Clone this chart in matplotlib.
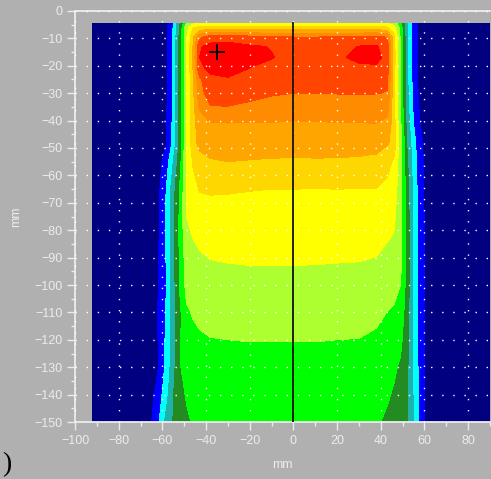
import numpy as np
import matplotlib
matplotlib.use('Agg')
import matplotlib.pyplot as plt
from matplotlib.ticker import MultipleLocator

# lateral positions (mm) and depths (mm) of the read-off grid
lateral_mm = [-92, -66, -62, -58, -55, -52, -49, -46, -43, -38, -30, -20, -10, 0,
              10, 20, 30, 38, 43, 46, 49, 52, 55, 58, 62, 66, 90]
depth_mm = [-4.5, -6, -9.5, -13, -17, -21, -25, -30, -35, -41, -48, -55, -65,
            -75, -85, -92, -100, -110, -120, -130, -140, -150]

# colour band read at each grid node (0 = navy ... 12 = red)
band_level = [
    [0, 0, 0.2, 0.7, 1.9, 3.9, 5.9, 6.8, 7.1, 7.2, 7.25, 7.3, 7.3, 7.3, 7.3, 7.3, 7.3, 7.25, 7.0, 6.5, 5.3, 3.0, 1.5, 0.55, 0.15, 0, 0],
    [0, 0, 0.25, 0.8, 2.05, 4.2, 6.6, 7.9, 8.2, 8.4, 8.4, 8.35, 8.3, 8.3, 8.3, 8.3, 8.3, 8.3, 8.1, 7.4, 5.6, 3.1, 1.55, 0.6, 0.2, 0, 0],
    [0, 0, 0.3, 0.85, 2.1, 4.3, 6.85, 8.8, 10.7, 11.5, 11.5, 11.3, 11.1, 11.0, 11.0, 11.05, 11.2, 11.3, 10.9, 8.3, 5.85, 3.2, 1.6, 0.6, 0.2, 0, 0],
    [0, 0, 0.3, 0.85, 2.1, 4.3, 6.85, 9.0, 11.9, 12.3, 12.4, 12.15, 11.95, 11.5, 11.5, 11.6, 12.05, 12.1, 11.5, 8.4, 5.85, 3.2, 1.6, 0.6, 0.2, 0, 0],
    [0, 0, 0.3, 0.85, 2.1, 4.3, 6.9, 9.1, 12.0, 12.45, 12.6, 12.3, 12.05, 11.7, 11.7, 11.85, 12.2, 12.25, 11.7, 8.5, 5.9, 3.2, 1.6, 0.6, 0.2, 0, 0],
    [0, 0, 0.3, 0.85, 2.1, 4.3, 6.9, 9.0, 11.8, 12.2, 12.4, 11.98, 11.7, 11.6, 11.6, 11.65, 11.8, 11.85, 11.4, 8.4, 5.85, 3.2, 1.6, 0.6, 0.2, 0, 0],
    [0, 0, 0.3, 0.85, 2.1, 4.3, 6.85, 8.8, 10.8, 11.8, 11.9, 11.6, 11.5, 11.45, 11.45, 11.45, 11.5, 11.5, 11.2, 8.3, 5.85, 3.2, 1.6, 0.62, 0.2, 0, 0],
    [0, 0, 0.3, 0.9, 2.15, 4.3, 6.85, 8.75, 10.6, 11.5, 11.55, 11.3, 11.1, 11.0, 11.0, 11.03, 11.07, 11.03, 10.95, 8.3, 5.9, 3.3, 1.7, 0.7, 0.22, 0, 0],
    [0, 0, 0.3, 0.95, 2.2, 4.3, 6.85, 8.65, 10.1, 10.95, 10.97, 10.8, 10.6, 10.5, 10.5, 10.5, 10.45, 10.5, 10.3, 8.3, 6.0, 3.4, 1.8, 0.8, 0.25, 0, 0],
    [0, 0, 0.3, 1.0, 2.25, 4.3, 6.85, 8.55, 9.6, 9.97, 9.98, 9.95, 9.95, 9.95, 9.95, 9.96, 9.98, 10.0, 9.8, 8.4, 6.2, 3.6, 2.0, 1.0, 0.28, 0, 0],
    [0, 0, 0.3, 1.0, 2.3, 4.3, 6.9, 8.6, 9.3, 9.5, 9.48, 9.45, 9.45, 9.45, 9.43, 9.4, 9.38, 9.3, 9.1, 8.7, 6.5, 3.9, 2.35, 1.3, 0.3, 0, 0],
    [0, 0, 0.5, 1.6, 3.0, 4.6, 6.9, 8.1, 8.6, 8.9, 9.0, 8.95, 8.9, 8.88, 8.9, 8.9, 8.85, 8.8, 8.4, 7.8, 6.45, 4.2, 2.5, 1.35, 0.35, 0, 0],
    [0, 0.05, 0.7, 2.1, 3.6, 5.1, 6.95, 7.65, 8.05, 8.1, 8.08, 8.03, 8.0, 8.0, 7.99, 8.0, 7.99, 7.98, 7.7, 7.5, 6.4, 4.5, 2.65, 1.45, 0.38, 0, 0],
    [0, 0.1, 0.8, 2.2, 3.7, 5.2, 7.0, 7.45, 7.6, 7.65, 7.65, 7.65, 7.65, 7.65, 7.65, 7.65, 7.65, 7.65, 7.55, 7.2, 6.3, 4.6, 2.7, 1.5, 0.4, 0, 0],
    [0, 0.15, 0.85, 2.2, 3.7, 5.2, 6.7, 6.9, 7.1, 7.22, 7.28, 7.3, 7.3, 7.3, 7.3, 7.3, 7.28, 7.2, 6.97, 6.85, 6.3, 4.65, 2.75, 1.5, 0.42, 0, 0],
    [0, 0.2, 0.9, 2.1, 3.65, 5.15, 6.4, 6.6, 6.8, 6.95, 7.0, 7.03, 7.03, 7.03, 7.02, 7.0, 6.98, 6.9, 6.85, 6.7, 6.25, 4.65, 2.75, 1.5, 0.42, 0, 0],
    [0, 0.2, 0.95, 2.0, 3.6, 5.1, 6.3, 6.45, 6.6, 6.7, 6.73, 6.75, 6.75, 6.75, 6.75, 6.75, 6.73, 6.7, 6.55, 6.4, 6.0, 4.6, 2.8, 1.5, 0.45, 0, 0],
    [0, 0.3, 1.05, 2.2, 3.5, 4.8, 5.85, 6.08, 6.2, 6.3, 6.38, 6.4, 6.4, 6.4, 6.4, 6.4, 6.35, 6.2, 5.98, 5.85, 5.6, 4.45, 2.8, 1.5, 0.45, 0, 0],
    [0, 0.3, 1.0, 2.25, 3.55, 4.9, 5.5, 5.75, 5.88, 5.97, 6.0, 6.02, 6.02, 6.02, 6.02, 6.0, 5.98, 5.85, 5.7, 5.5, 5.25, 4.3, 2.8, 1.55, 0.45, 0, 0],
    [0, 0.25, 0.95, 2.35, 3.65, 4.95, 5.25, 5.45, 5.6, 5.7, 5.73, 5.75, 5.75, 5.75, 5.75, 5.73, 5.72, 5.6, 5.35, 5.15, 4.85, 4.2, 2.85, 1.6, 0.45, 0, 0],
    [0, 0.45, 1.4, 2.7, 3.95, 4.8, 5.05, 5.15, 5.3, 5.45, 5.48, 5.5, 5.5, 5.5, 5.5, 5.48, 5.45, 5.35, 5.1, 4.9, 4.6, 4.05, 2.9, 1.6, 0.4, 0, 0],
    [0, 0.7, 1.8, 3.4, 4.05, 4.55, 4.9, 5.05, 5.1, 5.2, 5.22, 5.25, 5.25, 5.25, 5.25, 5.23, 5.2, 5.1, 4.85, 4.6, 4.35, 4.0, 3.0, 1.6, 0.4, 0, 0],
]

band_colors = ['#000080', '#0000ff', '#00ffff', '#20b2aa', '#228b22', '#00ff00',
               '#adff2f', '#ffff00', '#ffd700', '#ffa500', '#ff8c00', '#ff4500', '#ff0000']

profile_x = 0.0
max_point = (-35, -15)

bg = '#b0b0b0'
fg = '#ececec'

fig = plt.figure(figsize=(4.91, 4.79), dpi=100, facecolor=bg)
ax = fig.add_axes([75 / 491, 1 - 422 / 479, 415 / 491, 411 / 479], facecolor=bg)

Z = np.array(band_level)
ax.contourf(lateral_mm, depth_mm, Z, levels=np.arange(0, len(band_colors) + 1),
            colors=band_colors, zorder=1)

ax.plot([profile_x, profile_x], [depth_mm[0], depth_mm[-1]], color='#111111', lw=1.3, zorder=3)
ax.plot(*max_point, marker='+', color='black', ms=11, mew=1.3, zorder=4)

ax.set_xlim(-100, 90)
ax.set_ylim(-150, 0)
ax.xaxis.set_major_locator(MultipleLocator(20))
ax.xaxis.set_minor_locator(MultipleLocator(10))
ax.yaxis.set_major_locator(MultipleLocator(10))
ax.yaxis.set_minor_locator(MultipleLocator(5))

ax.grid(True, which='major', color='white', lw=1.0, linestyle=(0, (1, 7)), zorder=2)
ax.set_axisbelow(False)

for side in ['left', 'bottom', 'top']:
    ax.spines[side].set_color(fg)
    ax.spines[side].set_linewidth(1.3)
ax.spines['right'].set_visible(False)

ax.tick_params(which='major', length=6, width=1, color=fg, labelcolor=fg,
               labelsize=9, direction='out', pad=3)
ax.tick_params(which='minor', length=3, width=1, color=fg, direction='out')
for lab in ax.get_xticklabels() + ax.get_yticklabels():
    lab.set_family('Liberation Sans')

ax.set_xlabel('mm', color=fg, fontsize=9, family='Liberation Sans', labelpad=9)
ax.set_ylabel('mm', color=fg, fontsize=9, family='Liberation Sans', labelpad=9)

fig.text(0.004, 0.004, ')', fontsize=20, family='Liberation Serif', color='black',
         ha='left', va='bottom')

fig.savefig('out.png', dpi=100, facecolor=bg)
